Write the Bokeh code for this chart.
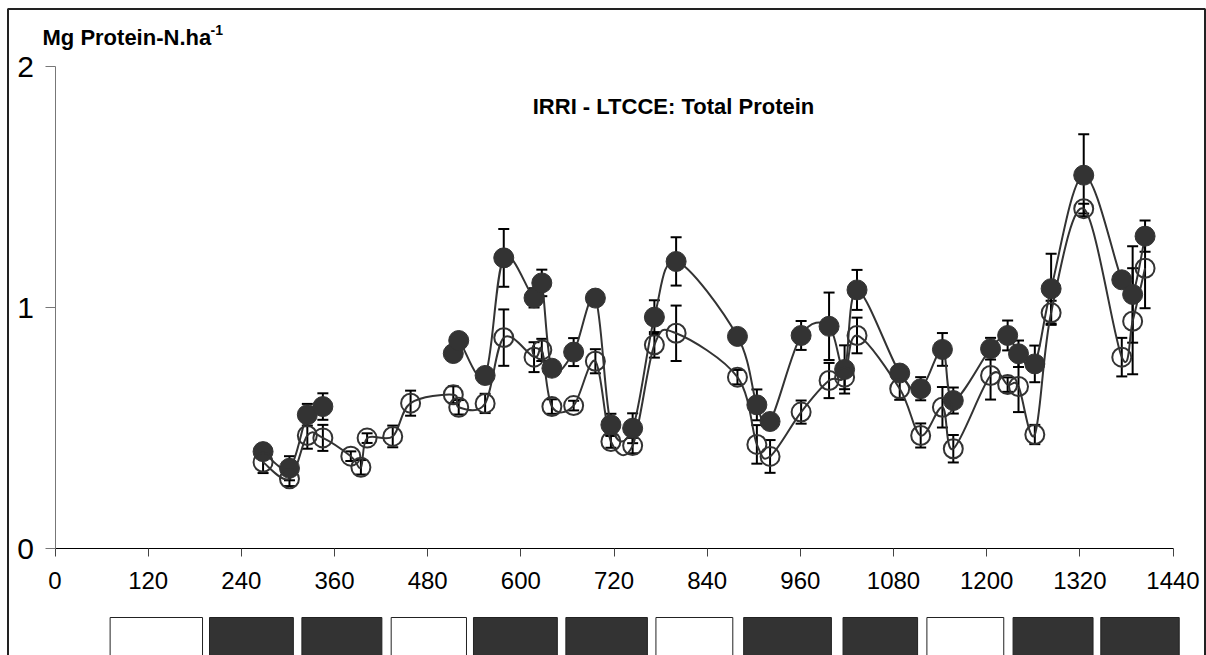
import numpy as np
from bokeh.plotting import figure
from bokeh.models import (ColumnDataSource, Whisker, TeeHead, FixedTicker, Label,
                          Range1d, LinearAxis)
from bokeh.embed import file_html
from bokeh.resources import INLINE

nan = float("nan")

# ---------------- data ----------------
days = [268, 302, 325, 345, 381, 394, 402, 435, 458, 513, 520, 554, 578, 617, 627,
        640, 668, 696, 716, 744, 772, 800, 879, 904, 921, 961, 997, 1017, 1033,
        1088, 1115, 1143, 1157, 1205, 1227, 1241, 1262, 1283, 1325, 1374, 1388, 1404]

protein_filled = [0.402, 0.333, 0.555, 0.589, nan, nan, nan, nan, nan, 0.809, 0.863,
                  0.718, 1.206, 1.040, 1.102, 0.748, 0.815, 1.039, 0.513, 0.499,
                  0.960, 1.191, 0.880, 0.596, 0.527, 0.884, 0.922, 0.743, 1.073,
                  0.728, 0.663, 0.826, 0.614, 0.829, 0.884, 0.808, 0.766, 1.078,
                  1.549, 1.115, 1.054, 1.296]
err_filled = [0.02, 0.05, 0.045, 0.055, nan, nan, nan, nan, nan, 0.03, 0.02,
              0.0, 0.12, 0.04, 0.055, 0.0, 0.058, 0.0, 0.046, 0.062,
              0.07, 0.10, 0.03, 0.064, 0.0, 0.06, 0.14, 0.10, 0.083,
              0.0, 0.048, 0.068, 0.054, 0.045, 0.062, 0.055, 0.076, 0.145,
              0.17, 0.0, 0.20, 0.065]

protein_open = [0.358, 0.289, 0.469, 0.459, 0.383, 0.337, 0.458, 0.465, 0.603, 0.638,
                0.586, 0.602, 0.875, 0.794, 0.824, 0.589, 0.593, 0.777, 0.444, 0.427,
                0.845, 0.893, 0.711, 0.432, 0.382, 0.566, 0.697, 0.711, 0.884,
                0.663, 0.469, 0.586, 0.414, 0.718, 0.680, 0.672, 0.473, 0.978,
                1.410, 0.794, 0.943, 1.163]
err_open = [0.045, 0.03, 0.055, 0.054, 0.02, 0.03, 0.02, 0.045, 0.052, 0.035,
            0.03, 0.04, 0.117, 0.062, 0.046, 0.03, 0.02, 0.05, 0.026, 0.032,
            0.053, 0.115, 0.03, 0.08, 0.068, 0.048, 0.073, 0.05, 0.074,
            0.046, 0.05, 0.084, 0.057, 0.10, 0.03, 0.106, 0.04, 0.05,
            0.02, 0.08, 0.22, 0.166]

season_start = [71, 199, 318, 433, 539, 658, 774, 887, 1015, 1123, 1234, 1347]
season_end = [190, 307, 421, 530, 647, 763, 873, 1000, 1111, 1222, 1337, 1448]
season_kind = ["fallow", "crop", "crop", "fallow", "crop", "crop", "fallow",
               "crop", "crop", "fallow", "crop", "crop"]

x_ticks = [0, 120, 240, 360, 480, 600, 720, 840, 960, 1080, 1200, 1320, 1440]
y_ticks = [0, 1, 2]

title_text = "IRRI - LTCCE: Total Protein"
ylabel_text = "Mg Protein-N.ha"
ylabel_sup = "-1"

# ---------------- layout constants ----------------
W, H = 1206, 655
X0PX, XSCALE = 54.5, 0.7764          # px of x=0, px per day
Y0PX, YSCALE = 548.0, 241.0          # px of y=0, px per unit


def xd(px):
    return (px - X0PX) / XSCALE


def yd(py):
    return (Y0PX - py) / YSCALE


xr0, xr1 = xd(0), xd(W)
yr1, yr0 = yd(0), yd(H)

DARK = "#333333"
FONT = "Liberation Sans"

p = figure(width=W, height=H, output_backend="svg", toolbar_location=None,
           x_range=Range1d(xr0, xr1), y_range=Range1d(yr0, yr1),
           x_axis_type=None, y_axis_type=None,
           min_border_left=0, min_border_top=0, min_border_right=0,
           min_border_bottom=0)
p.outline_line_color = None
p.background_fill_color = "white"
p.border_fill_color = "white"

# chart-area border (open at the cropped bottom edge)
p.line(x=[xd(7.5), xd(7.5), xd(1204.5), xd(1204.5)],
       y=[yd(H + 20), yd(8.5), yd(8.5), yd(H + 20)],
       line_color="#222222", line_width=2)

# axes placed at the data origin
xaxis = LinearAxis(ticker=FixedTicker(ticks=x_ticks), fixed_location=0,
                   bounds=(x_ticks[0], x_ticks[-1]))
xaxis.axis_line_color = "black"
xaxis.axis_line_width = 1.2
xaxis.major_tick_line_color = "#444444"
xaxis.major_tick_out = 8
xaxis.major_tick_in = 0
xaxis.minor_tick_out = 0
xaxis.minor_tick_in = 0
xaxis.major_label_text_font = FONT
xaxis.major_label_text_font_size = "24px"
xaxis.major_label_text_color = "black"
xaxis.major_label_standoff = 15
p.add_layout(xaxis, "below")

yaxis = LinearAxis(ticker=FixedTicker(ticks=y_ticks), fixed_location=0,
                   bounds=(y_ticks[0], y_ticks[-1]))
yaxis.axis_line_color = "#777777"
yaxis.major_tick_line_color = "#777777"
yaxis.major_tick_out = 10
yaxis.major_tick_in = 0
yaxis.minor_tick_out = 0
yaxis.minor_tick_in = 0
yaxis.major_label_text_font = FONT
yaxis.major_label_text_font_size = "30px"
yaxis.major_label_text_color = "black"
yaxis.major_label_standoff = 11
p.add_layout(yaxis, "left")

# season boxes below the axis
season_color = ["white" if k == "fallow" else DARK for k in season_kind]
p.quad(left=season_start, right=season_end, top=yd(617), bottom=yd(H + 20),
       fill_color=season_color, line_color="#222222", line_width=1)


def smooth_segments(xs, ys):
    runs, run = [], []
    for x, y in zip(xs, ys):
        if np.isfinite(y):
            run.append((x, y))
        else:
            if len(run) > 1:
                runs.append(run)
            run = []
    if len(run) > 1:
        runs.append(run)
    d = dict(x0=[], y0=[], x1=[], y1=[], cx0=[], cy0=[], cx1=[], cy1=[])
    for r in runs:
        P = np.array(r, dtype=float)
        n = len(P)
        for i in range(n - 1):
            p0 = P[i - 1] if i > 0 else P[i]
            p1, p2 = P[i], P[i + 1]
            p3 = P[i + 2] if i + 2 < n else P[i + 1]
            c1 = p1 + (p2 - p0) / 6.0
            c2 = p2 - (p3 - p1) / 6.0
            d["x0"].append(p1[0]); d["y0"].append(p1[1])
            d["x1"].append(p2[0]); d["y1"].append(p2[1])
            d["cx0"].append(c1[0]); d["cy0"].append(c1[1])
            d["cx1"].append(c2[0]); d["cy1"].append(c2[1])
    return ColumnDataSource(d)


def whisker_source(xs, ys, es):
    xx, lo, hi = [], [], []
    for x, y, e in zip(xs, ys, es):
        if np.isfinite(y) and np.isfinite(e) and e > 0:
            xx.append(x); lo.append(y - e); hi.append(y + e)
    return ColumnDataSource(dict(x=xx, lower=lo, upper=hi))


for ys, es in ((protein_filled, err_filled), (protein_open, err_open)):
    ws = whisker_source(days, ys, es)
    w = Whisker(source=ws, base="x", lower="lower", upper="upper",
                line_color="black", line_width=2, level="underlay",
                upper_head=TeeHead(size=11, line_color="black", line_width=2),
                lower_head=TeeHead(size=11, line_color="black", line_width=2))
    p.add_layout(w)

for ys in (protein_filled, protein_open):
    p.bezier(x0="x0", y0="y0", x1="x1", y1="y1", cx0="cx0", cy0="cy0",
             cx1="cx1", cy1="cy1", source=smooth_segments(days, ys),
             line_color=DARK, line_width=2)

fsrc = ColumnDataSource(dict(x=[d for d, v in zip(days, protein_filled) if np.isfinite(v)],
                             y=[v for v in protein_filled if np.isfinite(v)]))
p.scatter("x", "y", source=fsrc, size=20, fill_color=DARK, line_color=DARK, line_width=1)
osrc = ColumnDataSource(dict(x=days, y=protein_open))
p.scatter("x", "y", source=osrc, size=19, fill_color=None, line_color=DARK, line_width=2)

# texts
p.add_layout(Label(x=xd(673), y=yd(106), text=title_text,
                   text_align="center", text_baseline="middle", text_font=FONT,
                   text_font_style="bold", text_font_size="22px", text_color="black"))
p.add_layout(Label(x=xd(42), y=yd(37), text=ylabel_text,
                   text_align="left", text_baseline="alphabetic", text_font=FONT,
                   text_font_style="bold", text_font_size="22px", text_color="black"))
p.add_layout(Label(x=xd(210), y=yd(29), text=ylabel_sup,
                   text_align="left", text_baseline="alphabetic", text_font=FONT,
                   text_font_style="bold", text_font_size="14px", text_color="black"))

open("out.html", "w").write(file_html(p, INLINE))
